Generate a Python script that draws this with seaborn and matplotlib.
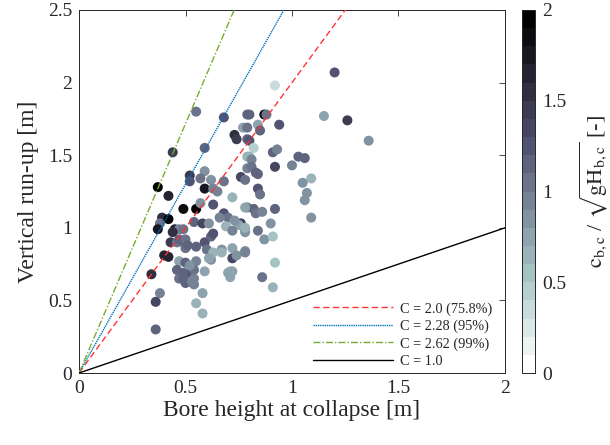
import numpy as np
import pandas as pd
import matplotlib
matplotlib.use("Agg")
import matplotlib.pyplot as plt
import seaborn as sns
from matplotlib.colors import Normalize
from matplotlib.cm import ScalarMappable

# ---- data ----
bore_height = [
    0.37, 0.42, 0.39, 0.38, 0.37, 0.40, 0.34, 0.38, 0.36, 0.36,
    0.44, 0.55, 0.59, 0.68, 0.52, 0.52, 0.59, 0.59, 0.57, 0.62,
    0.63, 0.68, 0.65, 0.72, 0.73, 0.74, 0.77, 0.79, 0.79, 0.79,
    0.79, 0.79, 0.76, 0.78, 1.20, 0.92, 0.87, 0.88, 0.80, 1.15,
    1.26, 1.36, 0.84, 0.85, 0.94, 0.80, 0.82, 0.80, 0.81, 0.81,
    0.83, 0.84, 0.91, 0.93, 0.92, 1.03, 1.06, 1.00, 1.09, 1.05,
    1.07, 1.06, 1.09, 0.84, 0.85, 0.79, 0.82, 0.83, 0.86, 0.92,
    0.76, 0.90, 0.78, 0.84, 0.87, 0.91, 0.78, 0.92, 0.86, 0.91,
    0.49, 0.55, 0.63, 0.57, 0.42, 0.45, 0.47, 0.43, 0.54, 0.58,
    0.61, 0.68, 0.70, 0.75, 0.42, 0.46, 0.49, 0.50, 0.55, 0.59,
    0.60, 0.62, 0.63, 0.67, 0.72, 0.72, 0.74, 0.62, 0.47, 0.50,
    0.55, 0.46, 0.47, 0.51, 0.54, 0.54, 0.49, 0.54, 0.59, 0.71,
    0.70, 0.58, 0.55, 0.58, 0.66, 0.78, 0.73, 0.78, 0.44, 0.49,
    0.69, 0.72, 0.78, 0.47, 0.50, 0.51, 0.63, 0.67, 0.78, 0.52,
    0.49, 0.52, 0.50, 0.53, 0.72, 0.71, 0.61,
]
runup = [
    1.28, 1.22, 1.07, 1.03, 0.99, 0.81, 0.68, 0.55, 0.49, 0.30,
    1.52, 1.80, 1.55, 1.76, 1.36, 1.32, 1.39, 1.27, 1.34, 1.33,
    1.27, 1.32, 1.25, 1.21, 1.64, 1.61, 1.69, 1.78, 1.69, 1.61,
    1.49, 1.41, 1.35, 1.33, 2.07, 1.98, 1.78, 1.78, 1.78, 1.77,
    1.74, 1.60, 1.71, 1.67, 1.71, 1.60, 1.55, 1.49, 1.47, 1.42,
    1.38, 1.37, 1.52, 1.54, 1.42, 1.49, 1.48, 1.43, 1.34, 1.31,
    1.24, 1.19, 1.07, 1.27, 1.23, 1.14, 1.13, 1.10, 1.11, 1.13,
    1.03, 1.03, 0.98, 0.98, 0.92, 0.94, 0.84, 0.76, 0.66, 0.59,
    1.13, 1.13, 1.16, 1.17, 1.06, 0.99, 0.99, 0.90, 1.04, 1.03,
    1.03, 1.10, 1.07, 1.02, 0.80, 0.90, 0.90, 0.86, 0.87, 0.90,
    0.85, 0.94, 0.96, 0.85, 0.86, 0.79, 0.81, 0.78, 0.77, 0.76,
    0.77, 0.71, 0.65, 0.68, 0.71, 0.65, 0.65, 0.61, 0.70, 0.70,
    0.69, 0.55, 0.48, 0.41, 1.07, 1.14, 1.05, 0.97, 0.97, 0.99,
    1.01, 0.98, 1.00, 0.92, 0.92, 0.88, 0.83, 0.83, 0.83, 0.74,
    0.69, 0.63, 0.62, 0.63, 0.70, 0.66, 0.79,
]
froude = [
    1.9, 1.6, 1.5, 1.0, 1.7, 1.6, 1.5, 0.9, 1.3, 1.1,
    1.4, 1.0, 1.1, 1.2, 1.4, 1.2, 0.8, 1.7, 1.0, 0.8,
    0.9, 1.0, 0.9, 0.6, 1.5, 1.4, 0.7, 1.1, 1.0, 1.1,
    0.6, 0.9, 1.3, 1.0, 1.2, 0.3, 1.8, 1.0, 1.1, 0.7,
    1.4, 0.8, 0.7, 1.1, 1.2, 1.2, 0.4, 0.6, 0.9, 1.0,
    1.1, 1.1, 1.1, 0.9, 1.3, 1.1, 1.1, 0.9, 0.6, 0.8,
    0.8, 0.8, 0.8, 1.2, 1.0, 1.0, 1.1, 1.0, 0.9, 1.1,
    1.4, 0.8, 0.8, 1.0, 0.8, 0.5, 0.8, 0.5, 1.0, 0.6,
    1.8, 2.0, 1.2, 0.8, 1.9, 1.6, 0.9, 1.4, 1.1, 1.3,
    0.8, 1.2, 1.0, 0.7, 1.6, 1.0, 1.1, 1.0, 1.1, 1.2,
    1.0, 1.1, 1.2, 0.8, 0.7, 1.3, 0.8, 0.8, 0.7, 1.1,
    0.9, 1.1, 1.0, 1.2, 1.0, 0.9, 1.1, 0.9, 0.7, 0.6,
    0.7, 0.7, 0.6, 0.6, 0.9, 0.7, 0.8, 0.8, 1.5, 1.0,
    0.6, 0.9, 0.6, 1.1, 1.0, 1.1, 0.6, 0.6, 0.9, 0.8,
    1.1, 1.0, 1.1, 0.9, 0.7, 0.7, 0.7,
]

# envelope lines R = C^2/2 * H
c_values = [2.0, 2.28, 2.62, 1.0]
line_labels = ["C = 2.0 (75.8%)", "C = 2.28 (95%)", "C = 2.62 (99%)", "C = 1.0"]
line_colors = ["#FF3333", "#0072BD", "#77AC30", "#000000"]
line_styles = [(0, (4.5, 2.5)), (0, (1, 0.6)), (0, (5, 1.5, 1, 1.5)), "-"]
h_range = [0.0, 2.0]

xticks = [0, 0.5, 1, 1.5, 2]
xticklabels = ["0", "0.5", "1", "1.5", "2"]
yticks = [0, 0.5, 1, 1.5, 2, 2.5]
yticklabels = ["0", "0.5", "1", "1.5", "2", "2.5"]
cticks = [0, 0.5, 1, 1.5, 2]
cticklabels = ["0", "0.5", "1", "1.5", "2"]

# ---- plotting ----
sns.set_theme(style="white")
plt.rcParams["font.family"] = ["Liberation Serif", "DejaVu Serif"]
plt.rcParams["mathtext.fontset"] = "stix"

fig = plt.figure(figsize=(6.10, 4.45), dpi=100)
ax = fig.add_axes([79 / 610, 1 - 373 / 445, 426 / 610, 363 / 445])
cax = fig.add_axes([522 / 610, 1 - 373 / 445, 13 / 610, 363 / 445])

cmap = plt.get_cmap("bone_r", 20)
norm = Normalize(vmin=0, vmax=2)

df = pd.DataFrame({"H": bore_height, "R": runup, "F": froude})
sns.scatterplot(data=df, x="H", y="R", hue="F", palette=cmap, hue_norm=norm,
                s=52, linewidth=0, legend=False, ax=ax, zorder=2)

for c, lab, col, ls in zip(c_values, line_labels, line_colors, line_styles):
    ld = pd.DataFrame({"H": h_range, "R": [c ** 2 / 2 * h for h in h_range]})
    sns.lineplot(data=ld, x="H", y="R", color=col, linestyle=ls, linewidth=1.0,
                 label=lab, ax=ax, zorder=3)

ax.set_xlim(0, 2)
ax.set_ylim(0, 2.5)
ax.set_xticks(xticks)
ax.set_xticklabels(xticklabels)
ax.set_yticks(yticks)
ax.set_yticklabels(yticklabels)
ax.tick_params(direction="in", top=True, right=True, length=4, width=0.6,
               labelsize=14, color="#262626", pad=5)
for sp in ax.spines.values():
    sp.set_color("#262626")
    sp.set_linewidth(0.7)
ax.set_xlabel("Bore height at collapse [m]", fontsize=17, labelpad=2)
ax.set_ylabel("Vertical run-up [m]", fontsize=17, labelpad=6)

leg = ax.legend(loc="lower right", bbox_to_anchor=(0.97, 0.015), frameon=False,
                fontsize=10.3, handlelength=5.6, handletextpad=0.5,
                labelspacing=0.28, borderpad=0, borderaxespad=0)

cb = fig.colorbar(ScalarMappable(norm=norm, cmap=cmap), cax=cax)
cb.set_ticks(cticks)
cb.set_ticklabels(cticklabels)
cb.ax.tick_params(direction="in", length=4, width=0.6, labelsize=14, pad=5)
cb.outline.set_edgecolor("#262626")
cb.outline.set_linewidth(0.7)
cb.set_label(r"$\mathrm{c_{b,c}}$ / $\sqrt{\mathrm{gH_{b,c}}}$ [-]", fontsize=16, labelpad=8)

fig.savefig("out.png", dpi=100)
